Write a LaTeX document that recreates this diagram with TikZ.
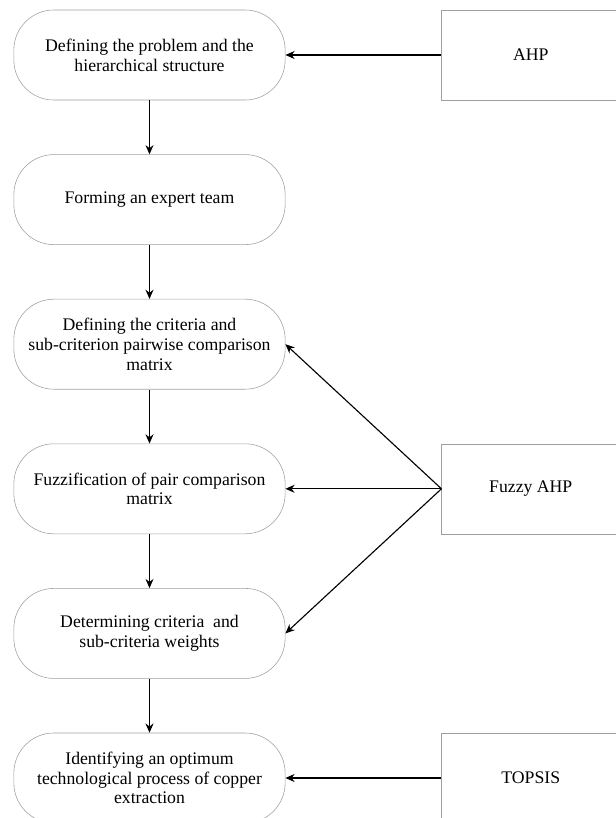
\documentclass[tikz,border=0pt]{standalone}
\usepackage{fontspec}
\setmainfont{Liberation Serif}
\usetikzlibrary{arrows.meta,positioning}
\tikzset{
    stagebox/.style={draw=gray!75, rounded corners=1.0cm, align=center,
        font=\fontsize{12.6}{14}\selectfont, minimum width=6.78cm,
        minimum height=2.25cm, inner sep=1pt},
    methodbox/.style={draw=gray!75, align=center, font=\fontsize{12.6}{14}\selectfont,
        minimum width=4.45cm, minimum height=2.25cm},
    flowarrow/.style={-{Stealth[length=2.3mm, width=2mm]}, thick}
}

\begin{document}
\begin{tikzpicture}[x=0.025cm, y=-0.025cm, node distance=1.35cm]
\useasboundingbox (0,0) rectangle (616,818);
\node[stagebox] (problem) at (149.5,55) {Defining the problem and the\\hierarchical structure};
\node[stagebox, below=of problem] (team) {Forming an expert team};
\node[stagebox, below=of team] (pairwise) {Defining the criteria and\\sub-criterion pairwise comparison\\matrix};
\node[stagebox, below=of pairwise] (fuzzify) {Fuzzification of pair comparison\\matrix};
\node[stagebox, below=of fuzzify] (weights) {Determining criteria\ \ and\\sub-criteria weights};
\node[stagebox, below=of weights] (optimum) {Identifying an optimum\\technological process of copper\\extraction};
\node[methodbox, right=3.9cm of problem] (ahp) {AHP};
\node[methodbox, right=3.9cm of fuzzify] (fahp) {Fuzzy AHP};
\node[methodbox, right=3.9cm of optimum] (topsis) {TOPSIS};
\draw[flowarrow] (problem) -- (team);
\draw[flowarrow] (team) -- (pairwise);
\draw[flowarrow] (pairwise) -- (fuzzify);
\draw[flowarrow] (fuzzify) -- (weights);
\draw[flowarrow] (weights) -- (optimum);
\draw[flowarrow] (ahp) -- (problem);
\draw[flowarrow] (fahp.west) -- (pairwise.east);
\draw[flowarrow] (fahp.west) -- (fuzzify.east);
\draw[flowarrow] (fahp.west) -- (weights.east);
\draw[flowarrow] (topsis) -- (optimum);
\end{tikzpicture}
\end{document}
